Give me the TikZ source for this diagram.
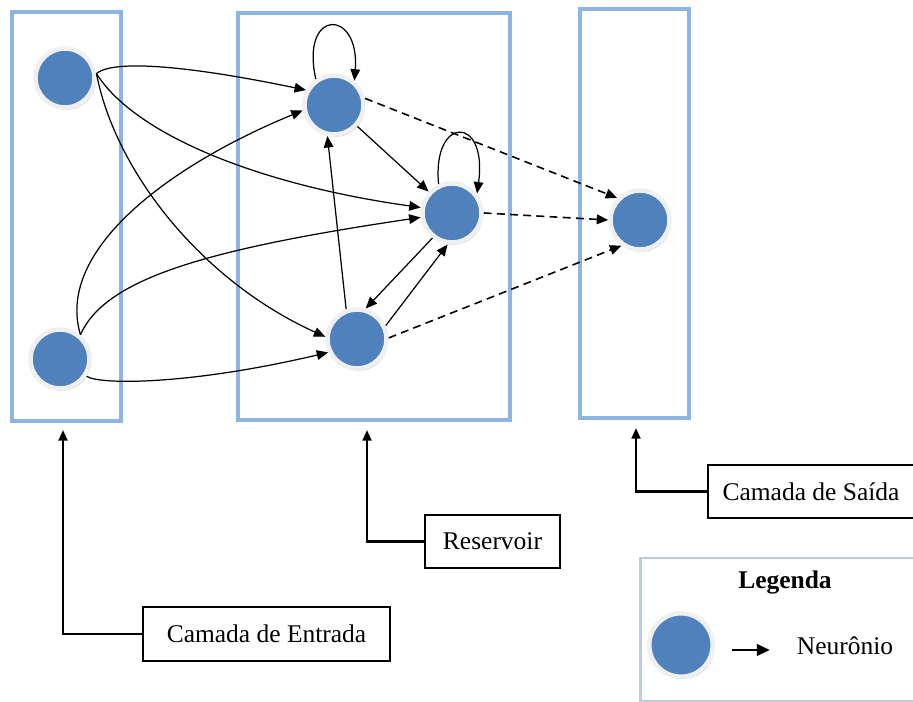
\documentclass[tikz,border=0pt]{standalone}
\usepackage{fontspec}
\setmainfont{Liberation Serif}
\usepackage{xcolor}
\usepackage{tikz}
\usetikzlibrary{arrows.meta}
\usetikzlibrary{shadows}
\definecolor{neuronblue}{HTML}{4F81BD}
\definecolor{layerblue}{HTML}{8DB4E2}
\definecolor{keyblue}{HTML}{BACDE4}

\begin{document}
\begin{tikzpicture}[x=0.02cm,y=-0.02cm]
      \tikzstyle{neuron}=[circle,fill=neuronblue,draw=black!6,line width=2.6pt,minimum size=1.18cm,inner sep=0pt,
        drop shadow={shadow xshift=0.8pt,shadow yshift=-1.2pt,fill=black!50,opacity=0.6}]
      \tikzstyle{layer}=[draw=layerblue,line width=2.3pt,minimum width=2.18cm,minimum height=8.18cm]
      \tikzstyle{edge}=[line width=0.7pt,-{Triangle[length=6.5pt,width=5.5pt]}]
      \tikzstyle{dashededge}=[edge,line width=0.9pt,dash pattern=on 4.5pt off 3pt]
      \tikzstyle{labelbox}=[draw=black,line width=1.2pt,minimum height=1.07cm,font=\fontsize{14.5pt}{17pt}\selectfont]
      \tikzstyle{pointer}=[line width=1.3pt,-{Triangle[length=6pt,width=5pt]}]
      \useasboundingbox (0,0) rectangle (913,702);
      % camadas
      \node[layer] (inlayer) at (66.5,216.5) {};
      \node[layer,minimum width=5.44cm,minimum height=8.14cm] (reslayer) at (374,216.5) {};
      \node[layer] (outlayer) at (634.5,213.5) {};
      % neuronios
      \node[neuron] (i1) at (65,78) {};
      \node[neuron] (i2) at (60,359) {};
      \node[neuron] (r1) at (334,105) {};
      \node[neuron] (r2) at (452,213) {};
      \node[neuron] (r3) at (357,339) {};
      \node[neuron] (o) at (640,220) {};
      % entrada -> reservoir
      \draw[edge] (i1.8) .. controls (115,58) and (200,68) .. (r1.152);
      \draw[edge] (i1.8) .. controls (135,135) and (260,185) .. (r2.170);
      \draw[edge] (i1.8) .. controls (115,170) and (200,280) .. (r3.176);
      \draw[edge] (i2.50) .. controls (55,250) and (170,165) .. (r1.190);
      \draw[edge] (i2.50) .. controls (105,280) and (200,250) .. (r2.188);
      \draw[edge] (i2) .. controls (100,385) and (190,385) .. (r3.205);
      % reservoir
      \draw[edge] (r1.125) .. controls (300,8) and (360,8) .. (r1.50);
      \draw[edge] (r2.115) .. controls (432,115) and (488,115) .. (r2.38);
      \draw[edge] (r1) -- (r2);
      \draw[edge] (r2.232) -- (r3.74);
      \draw[edge] (r3.25) -- (r2.262);
      \draw[edge] (r3.110) -- (r1.258);
      % reservoir -> saida
      \draw[dashededge] (r1.12) -- (o.136);
      \draw[dashededge] (r2.east) -- (o.west);
      \draw[dashededge] (r3.2) -- (o.234);
      % rotulos
      \node[labelbox,minimum width=4.94cm] (entrada) at (266.5,634) {Camada de Entrada};
      \node[labelbox,minimum width=2.7cm] (reservoir) at (492.5,541.5) {Reservoir};
      \node[labelbox,minimum width=4.12cm] (saida) at (811,491.5) {Camada de Saída};
      \coordinate (intip) at (63,430);
      \coordinate (restip) at (367,430);
      \coordinate (outtip) at (636,428);
      \draw[pointer] (entrada.west) -| (intip);
      \draw[pointer] (reservoir.west) -| (restip);
      \draw[pointer] (saida.west) -| (outtip);
      % legenda
      \node[draw=keyblue,line width=1.6pt,minimum width=5.5cm,minimum height=2.86cm] (key) at (778,629.5) {};
      \node[font=\fontsize{14.5pt}{17pt}\selectfont\bfseries] (keytitle) at (785,582) {Legenda};
      \node[neuron,minimum size=1.27cm] (keyneuron) at (681,645) {};
      \coordinate (keyfrom) at (732,650);
      \coordinate (keyto) at (770,650);
      \draw[line width=1.6pt,-{Triangle[length=7.5pt,width=6.5pt]}] (keyfrom) -- (keyto);
      \node[font=\fontsize{14.5pt}{17pt}\selectfont] (keytext) at (845,646) {Neurônio};
\end{tikzpicture}
\end{document}
